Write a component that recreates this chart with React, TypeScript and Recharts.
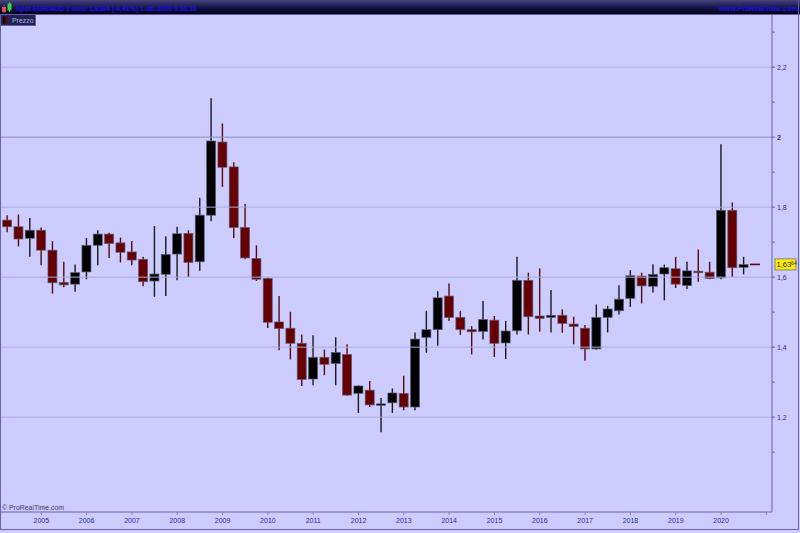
import React from 'react';
import { ComposedChart, Bar, XAxis, YAxis, ReferenceLine } from 'recharts';

// Quarterly EUR/AUD candles, 2004 Q2 .. 2020 Q4
const opens = [
  1.763, 1.744, 1.711, 1.734, 1.677, 1.585, 1.580, 1.615, 1.691, 1.723,
  1.698, 1.672, 1.651, 1.589, 1.608, 1.666, 1.725, 1.644, 1.777, 1.986,
  1.915, 1.742, 1.653, 1.596, 1.472, 1.454, 1.411, 1.309, 1.371, 1.353,
  1.379, 1.268, 1.277, 1.236, 1.241, 1.268, 1.229, 1.428, 1.450, 1.546,
  1.485, 1.450, 1.445, 1.477, 1.412, 1.447, 1.591, 1.489, 1.485, 1.491,
  1.466, 1.454, 1.395, 1.485, 1.504, 1.539, 1.603, 1.574, 1.609, 1.624,
  1.576, 1.617, 1.614, 1.598, 1.791, 1.628, 1.6364,
];
const highs = [
  1.777, 1.779, 1.769, 1.742, 1.703, 1.644, 1.636, 1.712, 1.734, 1.727,
  1.713, 1.703, 1.658, 1.746, 1.717, 1.744, 1.734, 1.827, 2.111, 2.039,
  1.928, 1.809, 1.691, 1.598, 1.546, 1.501, 1.436, 1.434, 1.393, 1.428,
  1.408, 1.291, 1.303, 1.255, 1.282, 1.318, 1.442, 1.504, 1.560, 1.582,
  1.503, 1.460, 1.532, 1.489, 1.475, 1.658, 1.613, 1.625, 1.563, 1.508,
  1.487, 1.463, 1.522, 1.518, 1.577, 1.620, 1.613, 1.637, 1.636, 1.658,
  1.644, 1.679, 1.644, 1.980, 1.813, 1.658, 1.6364,
];
const lows = [
  1.728, 1.688, 1.658, 1.634, 1.553, 1.571, 1.558, 1.594, 1.634, 1.655,
  1.642, 1.634, 1.574, 1.544, 1.546, 1.591, 1.601, 1.618, 1.760, 1.858,
  1.712, 1.651, 1.589, 1.455, 1.391, 1.365, 1.289, 1.291, 1.320, 1.291,
  1.261, 1.212, 1.229, 1.157, 1.212, 1.220, 1.220, 1.384, 1.404, 1.475,
  1.435, 1.379, 1.422, 1.372, 1.366, 1.436, 1.436, 1.444, 1.442, 1.441,
  1.408, 1.361, 1.393, 1.442, 1.493, 1.515, 1.525, 1.556, 1.534, 1.569,
  1.566, 1.587, 1.594, 1.594, 1.601, 1.608, 1.6364,
];
const closes = [
  1.744, 1.709, 1.734, 1.677, 1.584, 1.578, 1.613, 1.691, 1.723, 1.696,
  1.671, 1.649, 1.587, 1.609, 1.665, 1.724, 1.642, 1.777, 1.989, 1.914,
  1.742, 1.655, 1.594, 1.471, 1.453, 1.411, 1.308, 1.371, 1.351, 1.385,
  1.263, 1.289, 1.235, 1.238, 1.269, 1.229, 1.423, 1.450, 1.541, 1.485,
  1.450, 1.444, 1.479, 1.411, 1.446, 1.591, 1.487, 1.482, 1.491, 1.468,
  1.459, 1.395, 1.485, 1.509, 1.537, 1.604, 1.575, 1.608, 1.627, 1.580,
  1.618, 1.614, 1.596, 1.791, 1.627, 1.636, 1.6364,
];

const yearLabels = ['2005', '2006', '2007', '2008', '2009', '2010', '2011', '2012', '2013', '2014', '2015', '2016', '2017', '2018', '2019', '2020', ''];
const yearTickIndex = [3, 7, 11, 15, 19, 23, 27, 31, 35, 39, 43, 47, 51, 55, 59, 63, 67];
const yMajorTicks = [1.2, 1.4, 1.6, 1.8, 2, 2.2];
const yMinorTicks = [1.1, 1.3, 1.5, 1.7, 1.9, 2.1, 2.3];

const data = opens.map((o, i) => ({ i, open: o, high: highs[i], low: lows[i], close: closes[i] }));

const AXIS = '#6464b0';
const TXT = '#2a2aa0';
const FONT = 'Arial, "Liberation Sans", sans-serif';

const Candle = (props: any) => {
  const { x, y, width, height, payload } = props;
  if (!payload) return null;
  const { open, close, high, low } = payload;
  const cx = x + width / 2;
  const up = close > open;
  const body = up ? '#000000' : '#660000';
  const wick = up ? '#1a1a1a' : '#5a0808';
  const top = height >= 0 ? y : y + height;
  const h = Math.abs(height);
  const range = high - low;
  if (range === 0 || h === 0) {
    return <line x1={cx - 5} x2={cx + 5} y1={top} y2={top} stroke={body} strokeWidth={1.6} />;
  }
  const ppu = h / range;
  const yO = top + (high - open) * ppu;
  const yC = top + (high - close) * ppu;
  const bTop = Math.min(yO, yC);
  const bH = Math.max(Math.abs(yO - yC), 1.5);
  return (
    <g>
      <line x1={cx} x2={cx} y1={top} y2={top + h} stroke={wick} strokeWidth={1.4} />
      <rect x={cx - 4.5} y={bTop} width={9} height={bH} fill={body} stroke="rgba(90,90,120,0.85)" strokeWidth={0.8} />
    </g>
  );
};

const fmt = (v: number) => (Math.round(v * 10) / 10).toString().replace('.', ',');

const YTick = (props: any) => {
  const { x, y, payload } = props;
  const v = payload.value;
  const major = yMajorTicks.some((t) => Math.abs(t - v) < 1e-6);
  const bold = Math.abs(v - 2) < 1e-6;
  return (
    <g>
      <line x1={x} x2={x + 3} y1={y} y2={y} stroke={AXIS} strokeWidth={1} />
      {major && (
        <text x={x + 5} y={y} dy="0.35em" fontSize={7} fontFamily={FONT} fill={TXT} fontWeight={bold ? 'bold' : 'normal'}>
          {fmt(v)}
        </text>
      )}
    </g>
  );
};

const PriceLabel = (props: any) => {
  const vb = props.viewBox || {};
  const x = (vb.x || 0) + (vb.width || 0) + 3;
  const y = vb.y || 0;
  const last = closes[closes.length - 1];
  const s = last.toFixed(4).replace('.', ',');
  return (
    <g>
      <rect x={x} y={y - 5.5} width={21} height={11} fill="#ffee00" stroke="#707070" strokeWidth={0.8} />
      <text x={x + 1.5} y={y} dy="0.35em" fontSize={7.5} fontFamily={FONT} fill="#202020">
        {s.slice(0, 4)}
        <tspan fontSize={5} dy="-2">{s.slice(4)}</tspan>
      </text>
    </g>
  );
};

export default function App() {
  const yTicks = [...yMajorTicks, ...yMinorTicks].sort((a, b) => a - b);
  return (
    <div style={{ position: 'absolute', left: 0, top: 0, width: 800, height: 533, background: '#ccccff', overflow: 'hidden' }}>
      <ComposedChart width={800} height={533} data={data} margin={{ top: 15, right: 1, bottom: 0, left: 1 }}>
        {yMajorTicks.map((v) => (
          <ReferenceLine key={v} y={v} stroke={v === 2 ? '#8c8cb8' : '#aaaadc'} strokeWidth={1} ifOverflow="hidden" />
        ))}
        <XAxis
          type="number"
          dataKey="i"
          domain={[-0.556, 67.49]}
          allowDataOverflow
          ticks={yearTickIndex}
          tickFormatter={(v: number) => yearLabels[yearTickIndex.indexOf(v)] ?? ''}
          height={21}
          axisLine={{ stroke: AXIS }}
          tickLine={{ stroke: '#8080b0' }}
          tickSize={3}
          tickMargin={3}
          tick={{ fontSize: 7, fill: TXT, fontFamily: FONT }}
          interval={0}
        />
        <YAxis
          orientation="right"
          type="number"
          domain={[0.929, 2.349]}
          allowDataOverflow
          ticks={yTicks}
          width={27}
          axisLine={{ stroke: AXIS }}
          tickLine={false}
          tickSize={0}
          tickMargin={0}
          tick={<YTick />}
          interval={0}
        />
        <Bar dataKey={(d: any) => [d.low, d.high]} barSize={9} shape={<Candle />} isAnimationActive={false} />
        <ReferenceLine y={closes[closes.length - 1]} stroke="none" label={<PriceLabel />} />
      </ComposedChart>
      <svg width={800} height={533} style={{ position: 'absolute', left: 0, top: 0, pointerEvents: 'none' }}>
        <defs>
          <linearGradient id="hdr" x1="0" y1="0" x2="0" y2="1">
            <stop offset="0" stopColor="#44447e" />
            <stop offset="0.55" stopColor="#15154a" />
            <stop offset="1" stopColor="#000018" />
          </linearGradient>
        </defs>
        <rect x={0} y={0} width={800} height={14} fill="url(#hdr)" />
        <line x1={0} x2={800} y1={14.5} y2={14.5} stroke="#5a5aa6" />
        <line x1={0.5} x2={0.5} y1={14} y2={530} stroke={AXIS} />
        <line x1={798.5} x2={798.5} y1={0} y2={530} stroke={AXIS} />
        <line x1={0} x2={799} y1={529.5} y2={529.5} stroke={AXIS} />
        {/* header icon */}
        <line x1={4} x2={4} y1={5} y2={13} stroke="#d04040" />
        <rect x={2} y={7} width={4} height={5} fill="#e05050" />
        <line x1={9.5} x2={9.5} y1={2} y2={12} stroke="#30b030" />
        <rect x={7.5} y={3.5} width={4} height={7} fill="#40d040" />
        <text x={16} y={10.5} fontSize={8} fontWeight="bold" fontFamily={FONT} fill="#1414e6" textLength={181} lengthAdjust="spacingAndGlyphs">
          Spot EUR/AUD 3 mesi 1,6364 (-0,41%) 1-ott-2020 0.00.16
        </text>
        <text x={719} y={10.5} fontSize={7.2} fontWeight="bold" fontFamily={FONT} fill="#1414e6">
          www.ProRealTime.com
        </text>
        {/* legend */}
        <rect x={0.5} y={14.5} width={35} height={11} fill="#222250" stroke="#6060a8" />
        <rect x={3} y={16.5} width={4} height={7} fill="#5a0000" />
        <rect x={3} y={16.5} width={1.5} height={7} fill="#000000" />
        <text x={12} y={23} fontSize={7.5} fontFamily={FONT} fill="#aaaaee" textLength={21.5} lengthAdjust="spacingAndGlyphs">
          Prezzo
        </text>
        <text x={2} y={509.5} fontSize={7.5} fontFamily={FONT} fill="#3a3a5a" textLength={62} lengthAdjust="spacingAndGlyphs">
          © ProRealTime.com
        </text>
      </svg>
    </div>
  );
}
